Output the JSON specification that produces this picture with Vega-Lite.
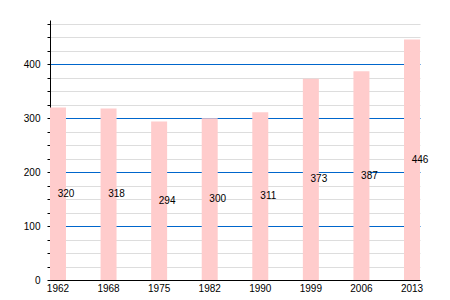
{
  "$schema": "https://vega.github.io/schema/vega-lite/v6.json",
  "width": 370,
  "height": 260,
  "autosize": "none",
  "padding": {"left": 50, "top": 20, "right": 30, "bottom": 20},
  "config": {"view": {"stroke": null}, "font": "Liberation Sans"},
  "data": {"values": [
    {"year": "1962", "value": 320},
    {"year": "1968", "value": 318},
    {"year": "1975", "value": 294},
    {"year": "1982", "value": 300},
    {"year": "1990", "value": 311},
    {"year": "1999", "value": 373},
    {"year": "2006", "value": 387},
    {"year": "2013", "value": 446}
  ]},
  "transform": [{"calculate": "datum.value / 2", "as": "mid"}],
  "encoding": {
    "x": {
      "field": "year", "type": "ordinal",
      "scale": {"paddingInner": 0.684, "paddingOuter": 0},
      "axis": {"title": null, "labelAngle": 0, "labelFontSize": 10, "labelColor": "#000", "ticks": false, "labelPadding": 3, "domainColor": "#000", "grid": false}
    }
  },
  "layer": [
    {
      "mark": {"type": "bar", "color": "#ffcccc"},
      "encoding": {
        "y": {
          "field": "value", "type": "quantitative",
          "scale": {"domain": [0, 482], "nice": false, "zero": true},
          "axis": {
            "title": null,
            "values": [0, 25, 50, 75, 100, 125, 150, 175, 200, 225, 250, 275, 300, 325, 350, 375, 400, 425, 450, 475],
            "labelExpr": "datum.value % 100 == 0 ? datum.label : ''",
            "labelOverlap": false,
            "labelFontSize": 10, "labelColor": "#000", "labelPadding": 7,
            "tickSize": 3, "tickColor": "#000", "domainColor": "#000",
            "grid": true,
            "gridColor": {"condition": {"test": "datum.value % 100 == 0", "value": "#0066cc"}, "value": "#dddddd"},
            "gridOpacity": 1,
            "gridWidth": 1
          }
        }
      }
    },
    {
      "mark": {"type": "text", "dx": 8, "align": "center", "baseline": "middle", "fontSize": 10, "color": "#000"},
      "encoding": {
        "y": {
          "field": "mid", "type": "quantitative",
          "axis": {
            "title": null,
            "values": [0, 25, 50, 75, 100, 125, 150, 175, 200, 225, 250, 275, 300, 325, 350, 375, 400, 425, 450, 475],
            "labelExpr": "datum.value % 100 == 0 ? datum.label : ''",
            "labelOverlap": false,
            "labelFontSize": 10, "labelColor": "#000", "labelPadding": 7,
            "tickSize": 3, "tickColor": "#000", "domainColor": "#000",
            "grid": true,
            "gridColor": {"condition": {"test": "datum.value % 100 == 0", "value": "#0066cc"}, "value": "#dddddd"},
            "gridOpacity": 1,
            "gridWidth": 1
          }
        },
        "text": {"field": "value", "type": "quantitative"}
      }
    }
  ]
}
